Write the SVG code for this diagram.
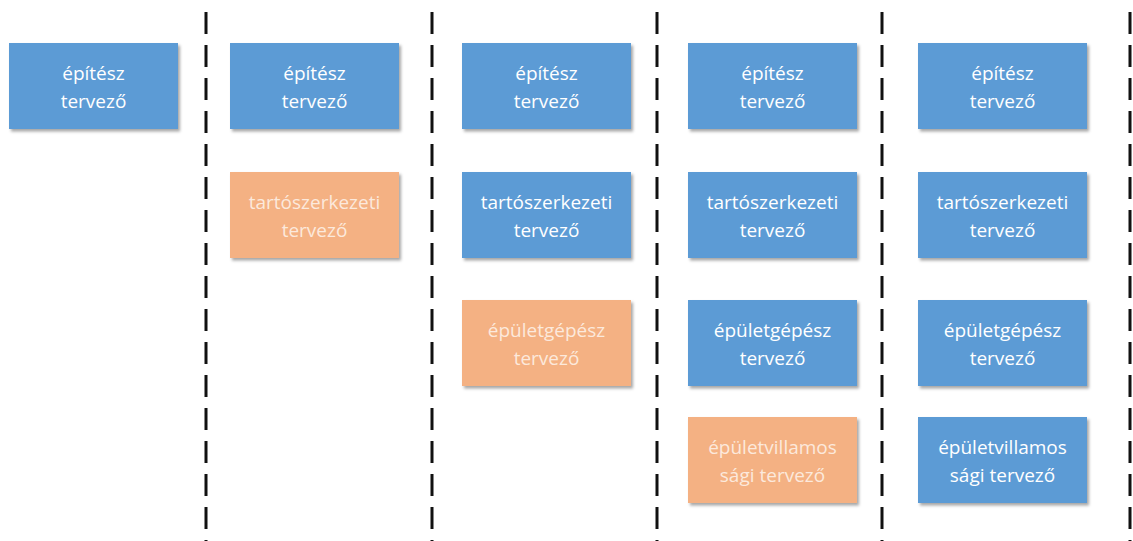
<svg xmlns="http://www.w3.org/2000/svg" width="1133" height="541" viewBox="0 0 1133 541">
  <style>
    .box { stroke: none; filter: url(#shadow); }
    .blue { fill: #5b9bd5; }
    .orange { fill: #f4b183; }
    .lbl { font-family: "Open Sans", "Noto Sans", sans-serif; font-size: 19px; text-anchor: middle; }
    .lbl-blue { fill: #ffffff; }
    .lbl-orange { fill: #fce9dc; }
    .sep { stroke: #111111; stroke-width: 3; stroke-dasharray: 22 11; fill: none; }
  </style>
  <defs>
    <filter id="shadow" x="-10%" y="-10%" width="125%" height="130%">
      <feDropShadow dx="2" dy="2.5" stdDeviation="1.6" flood-color="#000000" flood-opacity="0.35"/>
    </filter>
  </defs>

  <rect width="1133" height="541" fill="#ffffff"/>

  <!-- column separators -->
  <g id="connectors">
    <line class="sep" x1="206" y1="12" x2="206" y2="541"/>
    <line class="sep" x1="432" y1="12" x2="432" y2="541"/>
    <line class="sep" x1="657" y1="12" x2="657" y2="541"/>
    <line class="sep" x1="882" y1="12" x2="882" y2="541"/>
    <line class="sep" x1="1130" y1="12" x2="1130" y2="541"/>
  </g>

  <!-- column 1 -->
  <g id="c1-epitesz">
    <rect class="box blue" x="9" y="43" width="169" height="86"/>
    <text class="lbl lbl-blue" x="93.5" y="80">építész</text>
    <text class="lbl lbl-blue" x="93.5" y="108">tervező</text>
  </g>

  <!-- column 2 -->
  <g id="c2-epitesz">
    <rect class="box blue" x="230" y="43" width="169" height="86"/>
    <text class="lbl lbl-blue" x="314.5" y="80">építész</text>
    <text class="lbl lbl-blue" x="314.5" y="108">tervező</text>
  </g>
  <g id="c2-tarto">
    <rect class="box orange" x="230" y="172" width="169" height="86"/>
    <text class="lbl lbl-orange" x="314.5" y="209">tartószerkezeti</text>
    <text class="lbl lbl-orange" x="314.5" y="237">tervező</text>
  </g>

  <!-- column 3 -->
  <g id="c3-epitesz">
    <rect class="box blue" x="462" y="43" width="169" height="86"/>
    <text class="lbl lbl-blue" x="546.5" y="80">építész</text>
    <text class="lbl lbl-blue" x="546.5" y="108">tervező</text>
  </g>
  <g id="c3-tarto">
    <rect class="box blue" x="462" y="172" width="169" height="86"/>
    <text class="lbl lbl-blue" x="546.5" y="209">tartószerkezeti</text>
    <text class="lbl lbl-blue" x="546.5" y="237">tervező</text>
  </g>
  <g id="c3-gepesz">
    <rect class="box orange" x="462" y="300" width="169" height="86"/>
    <text class="lbl lbl-orange" x="546.5" y="337">épületgépész</text>
    <text class="lbl lbl-orange" x="546.5" y="365">tervező</text>
  </g>

  <!-- column 4 -->
  <g id="c4-epitesz">
    <rect class="box blue" x="688" y="43" width="169" height="86"/>
    <text class="lbl lbl-blue" x="772.5" y="80">építész</text>
    <text class="lbl lbl-blue" x="772.5" y="108">tervező</text>
  </g>
  <g id="c4-tarto">
    <rect class="box blue" x="688" y="172" width="169" height="86"/>
    <text class="lbl lbl-blue" x="772.5" y="209">tartószerkezeti</text>
    <text class="lbl lbl-blue" x="772.5" y="237">tervező</text>
  </g>
  <g id="c4-gepesz">
    <rect class="box blue" x="688" y="300" width="169" height="86"/>
    <text class="lbl lbl-blue" x="772.5" y="337">épületgépész</text>
    <text class="lbl lbl-blue" x="772.5" y="365">tervező</text>
  </g>
  <g id="c4-villamos">
    <rect class="box orange" x="688" y="417" width="169" height="86"/>
    <text class="lbl lbl-orange" x="772.5" y="454">épületvillamos</text>
    <text class="lbl lbl-orange" x="772.5" y="482">sági tervező</text>
  </g>

  <!-- column 5 -->
  <g id="c5-epitesz">
    <rect class="box blue" x="918" y="43" width="169" height="86"/>
    <text class="lbl lbl-blue" x="1002.5" y="80">építész</text>
    <text class="lbl lbl-blue" x="1002.5" y="108">tervező</text>
  </g>
  <g id="c5-tarto">
    <rect class="box blue" x="918" y="172" width="169" height="86"/>
    <text class="lbl lbl-blue" x="1002.5" y="209">tartószerkezeti</text>
    <text class="lbl lbl-blue" x="1002.5" y="237">tervező</text>
  </g>
  <g id="c5-gepesz">
    <rect class="box blue" x="918" y="300" width="169" height="86"/>
    <text class="lbl lbl-blue" x="1002.5" y="337">épületgépész</text>
    <text class="lbl lbl-blue" x="1002.5" y="365">tervező</text>
  </g>
  <g id="c5-villamos">
    <rect class="box blue" x="918" y="417" width="169" height="86"/>
    <text class="lbl lbl-blue" x="1002.5" y="454">épületvillamos</text>
    <text class="lbl lbl-blue" x="1002.5" y="482">sági tervező</text>
  </g>
</svg>
